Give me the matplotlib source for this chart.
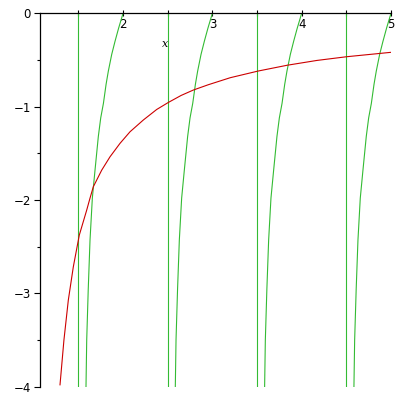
import matplotlib
matplotlib.use("Agg")
import matplotlib.pyplot as plt
import numpy as np

# red curve
red_x = [1.294, 1.338, 1.387, 1.443, 1.51, 1.593, 1.63, 1.667, 1.761, 1.854, 1.966,
         2.078, 2.227, 2.377, 2.507, 2.65, 2.787, 2.955, 3.2, 3.515, 3.84, 4.17, 4.505, 5.0]
red_y = [-3.98, -3.5, -3.073, -2.716, -2.376, -2.108, -1.98, -1.858, -1.68, -1.537, -1.393,
         -1.269, -1.143, -1.03, -0.955, -0.88, -0.822, -0.765, -0.69, -0.618, -0.556, -0.505,
         -0.465, -0.418]

# one green branch (position inside its period), all branches look the same
branch_dx = [0.585, 0.593, 0.61, 0.63, 0.656, 0.686, 0.723, 0.75, 0.78, 0.81, 0.835,
             0.873, 0.91, 0.95, 1.0]
branch_y = [-4.0, -3.5, -2.96, -2.43, -1.98, -1.68, -1.32, -1.12, -0.965, -0.76, -0.62,
            -0.44, -0.3, -0.16, 0.0]
branch_start = [1, 2, 3, 4]
vlines_x = [1.5, 2.5, 3.5, 4.5]

green = "#33bb33"
red = "#cc0000"

fig = plt.figure(figsize=(4, 4), dpi=100)
ax = fig.add_axes([40 / 400, 1 - 386.7 / 400, 351 / 400, 373.4 / 400])

for k in branch_start:
    ax.plot(np.array(branch_dx) + k, branch_y, color=green, lw=0.8)
for xv in vlines_x:
    ax.plot([xv, xv], [-4, 0], color=green, lw=0.8)
ax.plot(red_x, red_y, color=red, lw=0.8)

ax.set_xlim(1.07, 5.0)
ax.set_ylim(-4, 0)

for s in ["bottom", "right"]:
    ax.spines[s].set_visible(False)
for s in ["top", "left"]:
    ax.spines[s].set_linewidth(0.9)

ax.set_xticks([2, 3, 4, 5])
ax.set_xticks([1.5, 2.5, 3.5, 4.5], minor=True)
ax.set_xticklabels(["2", "3", "4", "5"])
ax.tick_params(axis="x", which="both", top=True, bottom=False, labeltop=True,
               labelbottom=False, direction="inout", length=4, width=0.8,
               pad=-15, labelsize=8.5)

ax.set_yticks([0, -1, -2, -3, -4])
ax.set_yticks([-0.5, -1.5, -2.5, -3.5], minor=True)
ax.set_yticklabels(["0", "\u22121", "\u22122", "\u22123", "\u22124"])
ax.tick_params(axis="y", which="major", direction="out", length=4.5, width=0.8,
               pad=2, labelsize=8.5)
ax.tick_params(axis="y", which="minor", direction="out", length=2.3, width=0.8)

ax.set_xlabel("x", style="italic", fontsize=8, family="DejaVu Serif")
ax.xaxis.set_label_coords(125 / 351, 1 - 30.7 / 373.4)
ax.xaxis.label.set_va("center")

fig.savefig("out.png", dpi=100)
